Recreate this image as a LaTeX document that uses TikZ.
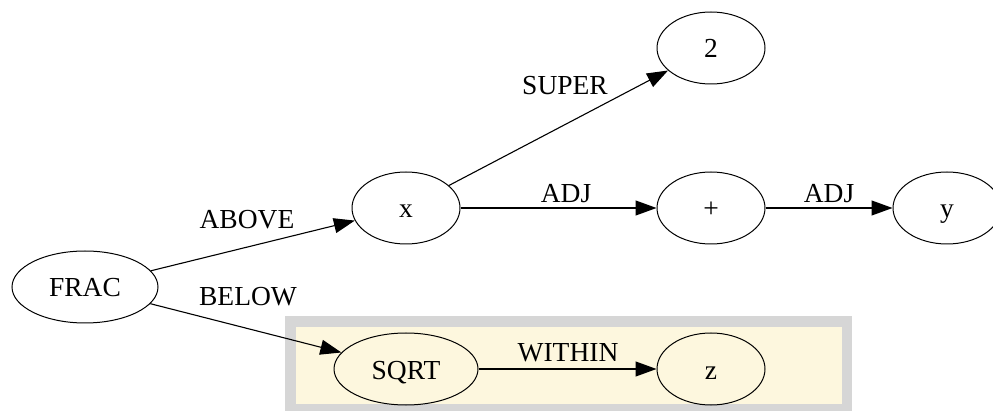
\documentclass[tikz,border=0pt]{standalone}
\usepackage{fontspec}
\setmainfont{Liberation Serif}
\usetikzlibrary{shapes.geometric,arrows.meta}
\definecolor{clusterfill}{HTML}{FDF7DE}
\definecolor{clusterline}{HTML}{D6D6D6}
\tikzset{
  graphnode/.style={ellipse, draw=black, line width=1pt, inner sep=0pt,
    minimum height=72pt, text height=20pt, text depth=0pt,
    font=\fontsize{27.5}{32}\selectfont},
  edgelabel/.style={anchor=base, inner sep=0pt, font=\fontsize{27.5}{32}\selectfont},
  link/.style={draw=black, line width=1.1pt,
    -{Triangle[length=21pt,width=15pt]}}
}
\begin{document}
\begin{tikzpicture}[x=1pt, y=-1pt]
  \clip (0,0) rectangle (993,411);
  \fill[white] (0,0) rectangle (993,411);

  % cluster holding the square root and its contents
  \draw[clusterline, fill=clusterfill, line width=10.5pt]
    (290.5,321.5) rectangle (847,409.25);

  % nodes
  \node[graphnode, minimum width=146pt] (frac) at (85,287) {FRAC};
  \node[graphnode, minimum width=108pt] (x)    at (406,208) {x};
  \node[graphnode, minimum width=144pt] (sqrt) at (406,369) {SQRT};
  \node[graphnode, minimum width=108pt] (two)  at (711,48)  {2};
  \node[graphnode, minimum width=108pt] (plus) at (711,208) {+};
  \node[graphnode, minimum width=108pt] (z)    at (711,369) {z};
  \node[graphnode, minimum width=108pt] (y)    at (947,208) {y};

  % connectors
  \draw[link] (frac) -- (x);
  \draw[link] (frac) -- (sqrt);
  \draw[link] (x) -- (two);
  \draw[link] (x) -- (plus);
  \draw[link] (plus) -- (y);
  \draw[link] (sqrt) -- (z);

  % connector labels
  \node[edgelabel] (lab-above)  at (247,229) {ABOVE};
  \node[edgelabel] (lab-below)  at (248,306) {BELOW};
  \node[edgelabel] (lab-super)  at (565,95)  {SUPER};
  \node[edgelabel] (lab-adj1)   at (566,203) {ADJ};
  \node[edgelabel] (lab-adj2)   at (829,203) {ADJ};
  \node[edgelabel] (lab-within) at (568,362) {WITHIN};
\end{tikzpicture}
\end{document}
